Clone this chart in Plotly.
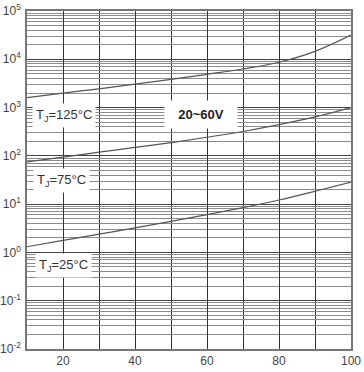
import plotly.graph_objects as go

# Data
x_vals = [10, 20, 30, 40, 50, 60, 70, 80, 90, 100]
tj125 = [1600, 1990, 2450, 3050, 3840, 4890, 6300, 8690, 14600, 31600]
tj75 = [75, 94.4, 119, 150, 188, 243, 320, 442, 640, 1000]
tj25 = [1.31, 1.77, 2.39, 3.22, 4.40, 6.07, 8.47, 12.2, 18.5, 28.7]

x_ticks = [20, 40, 60, 80, 100]
y_decades = [-2, -1, 0, 1, 2, 3, 4, 5]
y_ticktext = ["10<sup>%d</sup>" % d for d in y_decades]

labels = ["T<sub>J</sub>=125°C", "T<sub>J</sub>=75°C", "T<sub>J</sub>=25°C"]
# annotation y positions on a log axis are given as log10(value)
label_pos = [(20.4, 2.84), (19.6, 1.5), (20.0, -0.28)]
voltage_label = "20~60V"
voltage_pos = (58.3, 2.85)

y_major = [10.0 ** d for d in y_decades]
y_minor = [k * 10.0 ** d for d in y_decades[:-1] for k in range(2, 10)]

fig = go.Figure()
for ys in (tj125, tj75, tj25):
    fig.add_trace(go.Scatter(
        x=x_vals, y=ys, mode="lines",
        line=dict(color="#555555", width=1.2, shape="spline", smoothing=1.0),
        showlegend=False, hoverinfo="skip"))

for txt, (xx, yy) in zip(labels, label_pos):
    fig.add_annotation(x=xx, y=yy, xref="x", yref="y", text=txt, showarrow=False,
                       font=dict(family="Liberation Sans, Arial", size=13, color="#333333"),
                       bgcolor="white", borderpad=3)

fig.add_annotation(x=voltage_pos[0], y=voltage_pos[1], xref="x", yref="y",
                   text="&nbsp;&nbsp;<b>%s</b>&nbsp;&nbsp;" % voltage_label, showarrow=False,
                   font=dict(family="Liberation Sans, Arial", size=13, color="#222222"),
                   bgcolor="white", borderpad=6)

fig.update_layout(
    width=364, height=372,
    margin=dict(l=27, r=13, t=11, b=23),
    paper_bgcolor="white", plot_bgcolor="white",
    font=dict(family="Liberation Sans, Arial", size=12, color="#444444"),
    xaxis=dict(
        range=[10, 100], tickmode="array", tickvals=x_ticks, automargin=False,
        ticks="", showgrid=True, gridcolor="#333333", gridwidth=1.2,
        minor=dict(tickmode="array", tickvals=[30, 50, 70, 90], showgrid=True,
                   gridcolor="#333333", gridwidth=1.2, ticks=""),
        showline=True, linecolor="#777777", linewidth=1.5, mirror=True,
        zeroline=False, tickfont=dict(size=12, color="#444444"),
    ),
    yaxis=dict(
        type="log", range=[-2, 5], tickmode="array", tickvals=y_major, automargin=False,
        ticktext=y_ticktext, ticks="", showgrid=True, gridcolor="#444444",
        gridwidth=1.2,
        minor=dict(tickmode="array", tickvals=y_minor, showgrid=True,
                   gridcolor="#8c8c8c", gridwidth=1, ticks=""),
        showline=True, linecolor="#777777", linewidth=1.5, mirror=True,
        zeroline=False, tickfont=dict(size=12, color="#444444"), ticklabelstandoff=2,
    ),
)

fig.write_html("out.html", config={"displayModeBar": False},
               post_script="document.body.style.margin='0';")
